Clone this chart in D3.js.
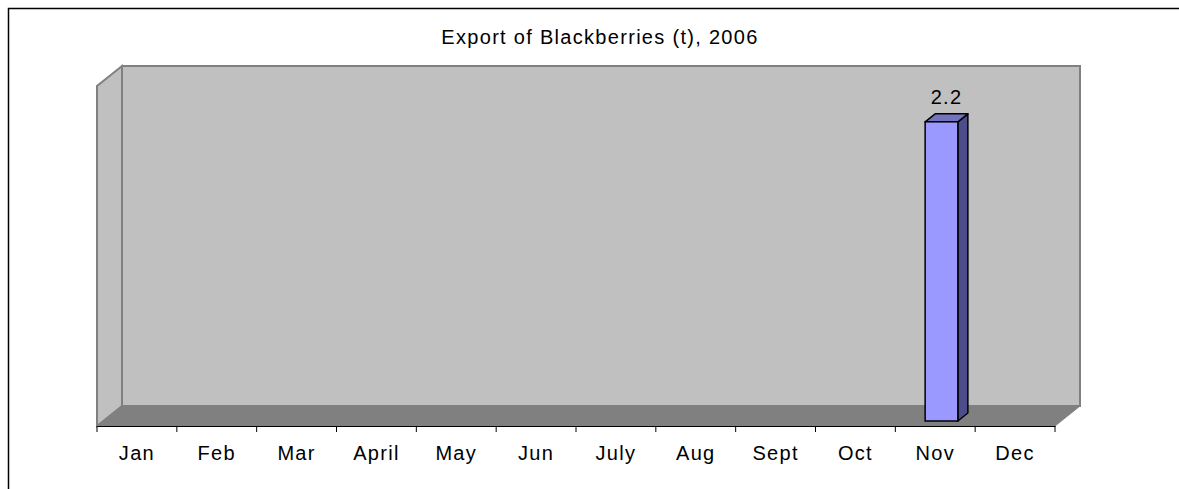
<!DOCTYPE html>
<html>
<head>
<meta charset="utf-8">
<script src="https://cdn.jsdelivr.net/npm/d3@7"></script>
<style>
  html, body { margin: 0; background: #fff; overflow: hidden; }
  svg { display: block; }
  text { font-family: "Liberation Sans", Arial, sans-serif; fill: #000; }
</style>
</head>
<body>
<div id="chart"></div>
<script>
var months = ["Jan", "Feb", "Mar", "April", "May", "Jun", "July", "Aug", "Sept", "Oct", "Nov", "Dec"];
var values = [0, 0, 0, 0, 0, 0, 0, 0, 0, 0, 2.2, 0];
var title = "Export of Blackberries (t), 2006";
var yMax = 2.5;

var W = 1179, H = 489;
var fontSize = "20px", spacing = "1.3px";

var svg = d3.select("#chart")
    .append("svg")
    .attr("width", W)
    .attr("height", H);

// outer frame: only left and top edges are in the picture
svg.append("path")
    .attr("d", "M8.5," + H + "V8.5H" + W)
    .attr("fill", "none")
    .attr("stroke", "#000")
    .attr("stroke-width", 1.5);

svg.append("text")
    .attr("x", 600).attr("y", 44)
    .attr("text-anchor", "middle")
    .style("font-size", fontSize)
    .style("letter-spacing", spacing)
    .text(title);

// plot geometry: front floor line and depth offset
var left = 97, right = 1055, front = 426;
var dx = 25, dy = -20;
var plotH = 340;

var x = d3.scaleBand().domain(months).range([left, right]).padding(0);
var y = d3.scaleLinear().domain([0, yMax]).range([0, plotH]);

function pts(a) {
    return a.map(function (p) { return p.join(","); }).join(" ");
}

var g = svg.append("g");

// back wall
g.append("polygon")
    .attr("points", pts([[left + dx, front + dy], [right + dx, front + dy],
        [right + dx, front + dy - plotH], [left + dx, front + dy - plotH]]))
    .attr("fill", "#c0c0c0").attr("stroke", "#808080").attr("stroke-width", 2);

// side wall
g.append("polygon")
    .attr("points", pts([[left, front], [left + dx, front + dy],
        [left + dx, front + dy - plotH], [left, front - plotH]]))
    .attr("fill", "#c0c0c0").attr("stroke", "#808080").attr("stroke-width", 2);

// floor
g.append("polygon")
    .attr("points", pts([[left, front], [right, front],
        [right + dx, front + dy], [left + dx, front + dy]]))
    .attr("fill", "#808080").attr("stroke", "#808080").attr("stroke-width", 1);

// bars (3D boxes)
var d0 = 0.25, d1 = 0.65;
var barW = x.bandwidth() * 0.41;

var data = months.map(function (m, i) { return { m: m, v: values[i] }; })
    .filter(function (d) { return d.v > 0; });

var bars = g.selectAll(".bar").data(data).enter().append("g").attr("class", "bar");

function fx(d) { return x(d.m) + (x.bandwidth() - barW) / 2 + dx * d0; }
function fy() { return front + dy * d0; }
var bdx = dx * (d1 - d0), bdy = dy * (d1 - d0);

bars.append("polygon") // side
    .attr("points", function (d) {
        var x0 = fx(d) + barW, yb = fy(), yt = fy() - y(d.v);
        return pts([[x0, yb], [x0 + bdx, yb + bdy], [x0 + bdx, yt + bdy], [x0, yt]]);
    })
    .attr("fill", "#4d4d8c").attr("stroke", "#000").attr("stroke-width", 1.5)
    .attr("stroke-linejoin", "round");

bars.append("polygon") // top
    .attr("points", function (d) {
        var x0 = fx(d), yt = fy() - y(d.v);
        return pts([[x0, yt], [x0 + barW, yt], [x0 + barW + bdx, yt + bdy], [x0 + bdx, yt + bdy]]);
    })
    .attr("fill", "#7373bf").attr("stroke", "#000").attr("stroke-width", 1.5)
    .attr("stroke-linejoin", "round");

bars.append("rect") // front
    .attr("x", fx)
    .attr("y", function (d) { return fy() - y(d.v); })
    .attr("width", barW)
    .attr("height", function (d) { return y(d.v); })
    .attr("fill", "#9999ff").attr("stroke", "#000").attr("stroke-width", 1.5);

bars.append("text")
    .attr("x", function (d) { return fx(d) + barW / 2 + bdx / 2; })
    .attr("y", function (d) { return fy() - y(d.v) - 18; })
    .attr("text-anchor", "middle")
    .style("font-size", fontSize)
    .style("letter-spacing", spacing)
    .text(function (d) { return d.v; });

// category axis
var xAxis = d3.axisBottom(x).tickSize(0).tickPadding(20);
var ax = svg.append("g")
    .attr("transform", "translate(0," + front + ")")
    .call(xAxis);
ax.select(".domain").attr("stroke", "#000");
ax.selectAll("text")
    .style("font-size", fontSize)
    .style("letter-spacing", spacing)
    .style("font-family", "Liberation Sans, Arial, sans-serif");

ax.selectAll(".sep").data(months.concat(["end"])).enter().append("line")
    .attr("class", "sep")
    .attr("x1", function (d, i) { return left + i * x.step(); })
    .attr("x2", function (d, i) { return left + i * x.step(); })
    .attr("y1", 0).attr("y2", 6)
    .attr("stroke", "#000");
</script>
</body>
</html>
